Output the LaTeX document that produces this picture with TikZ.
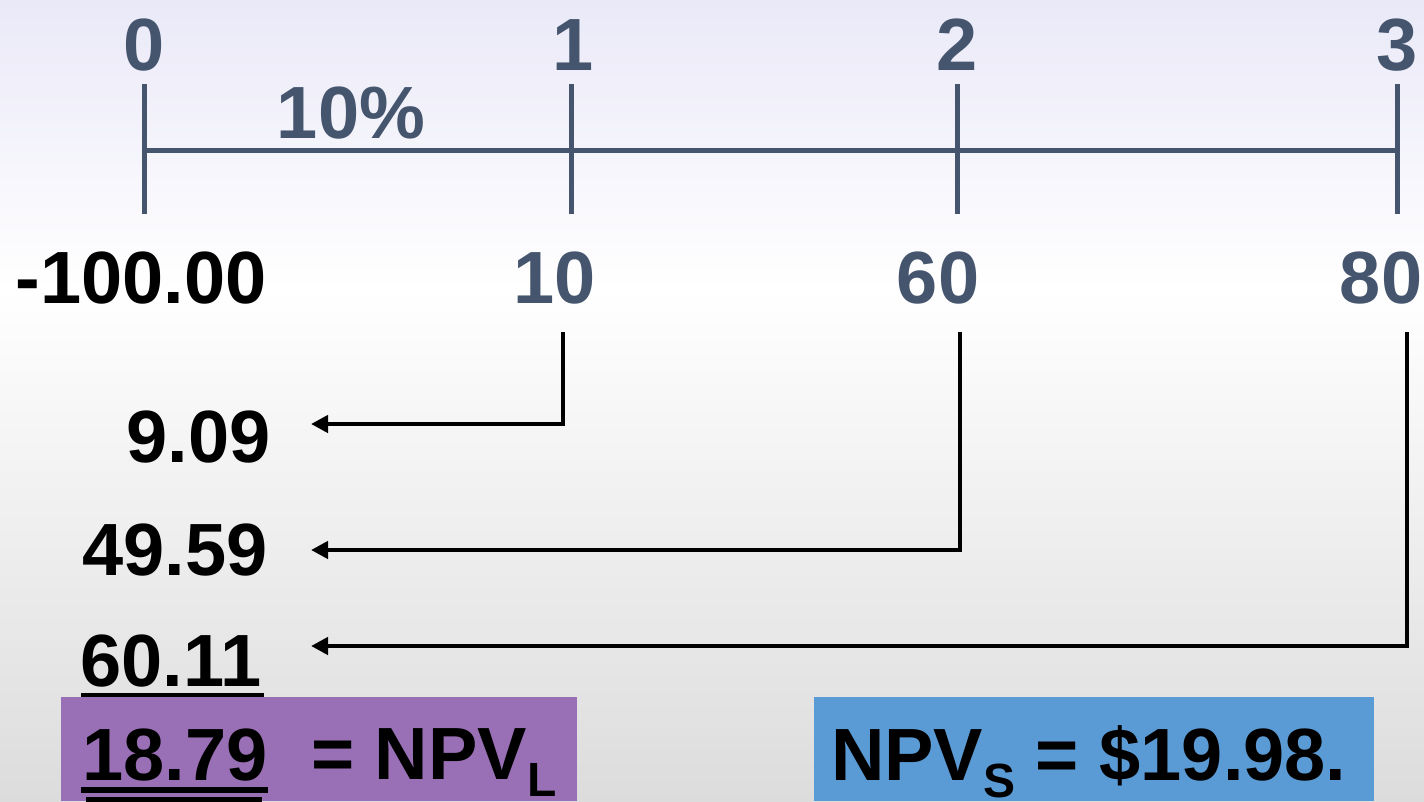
\documentclass[tikz,border=0pt]{standalone}
\usepackage{fontspec}
\setmainfont{Liberation Sans}
\usetikzlibrary{arrows.meta}
\definecolor{tl}{RGB}{70,85,110}
\definecolor{lav}{RGB}{234,233,248}
\definecolor{botgray}{RGB}{220,220,220}
\definecolor{npvpurple}{RGB}{153,111,182}
\definecolor{npvblue}{RGB}{91,155,213}
\tikzset{
  lbl/.style={inner sep=0pt,font=\fontsize{74}{78}\selectfont\bfseries},
  tlbl/.style={lbl,text=tl},
  axis/.style={draw=tl,line width=5pt},
  arr/.style={draw=black,line width=4.5pt,-{Triangle[length=17pt,width=17pt]}},
  ul/.style={fill=black}
}
\newcommand{\mysub}[1]{\raisebox{-17pt}{\fontsize{48}{50}\selectfont #1}}
\begin{document}
\begin{tikzpicture}[x=1pt,y=-1pt]
\useasboundingbox (0,0) rectangle (1424,801);
\shade[top color=lav,bottom color=white] (0,0) rectangle (1424,290);
\shade[top color=white,bottom color=botgray] (0,289.5) rectangle (1424,801);

% timeline
\coordinate (k0) at (144,150);
\coordinate (k3) at (1397,150);
\draw[axis] (k0) -- (k3);
\draw[axis] (144,84) -- (144,214);
\draw[axis] (571,84) -- (571,214);
\draw[axis] (957,84) -- (957,214);
\draw[axis] (1397,84) -- (1397,214);

\node[tlbl,anchor=base] (t0) at (144,70) {0};
\node[tlbl,anchor=base] (t1) at (573,70) {1};
\node[tlbl,anchor=base] (t2) at (957,70) {2};
\node[tlbl,anchor=base] (t3) at (1397,70) {3};
\node[tlbl,anchor=base] (rate) at (351,138) {10\%};

\node[lbl,anchor=base] (v0) at (141,303) {-100.00};
\node[tlbl,anchor=base] (v1) at (555,303) {10};
\node[tlbl,anchor=base] (v2) at (938,303) {60};
\node[tlbl,anchor=base] (v3) at (1381,303) {80};

% present values
\node[lbl,anchor=base east] (p1) at (271,462) {9.09};
\node[lbl,anchor=base east] (p2) at (268,575) {49.59};
\node[lbl,anchor=base east] (p3) at (262,686) {60.11};
\fill[ul] (81,693) rectangle (264,697);

% connectors
\coordinate (s1) at (563,332);
\coordinate (e1) at (311,424);
\coordinate (s2) at (960,332);
\coordinate (e2) at (311,550);
\coordinate (s3) at (1407,332);
\coordinate (e3) at (311,646);
\draw[arr] (s1) |- (e1);
\draw[arr] (s2) |- (e2);
\draw[arr] (s3) |- (e3);

% result boxes
\fill[npvpurple] (61,697) rectangle (577,801);
\fill[npvblue] (814,697) rectangle (1374,801);
\node[lbl,anchor=base] (npvl) at (175,780) {18.79};
\fill[ul] (81,787) rectangle (268,793);
\fill[ul] (86,797) rectangle (262,803);
\node[lbl,anchor=base west] (eql) at (311,779) {= NPV\mysub{L}};
\node[lbl,anchor=base west] (npvs) at (831,780) {NPV\mysub{S} = \$19.98.};
\end{tikzpicture}
\end{document}
